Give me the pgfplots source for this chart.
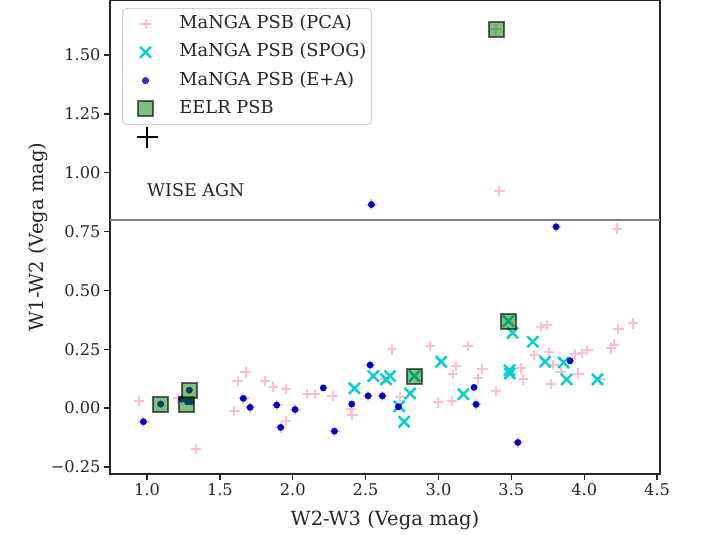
\documentclass[border=0pt]{standalone}
\usepackage{fontspec}
\setmainfont{DejaVu Serif}
\usepackage{pgfplots}
\pgfplotsset{compat=1.18}
\definecolor{axgray}{HTML}{262626}
\definecolor{pinkc}{HTML}{FFC0CB}
\definecolor{cyanc}{HTML}{00CED1}
\definecolor{bluec}{HTML}{0000CD}
\definecolor{greenc}{HTML}{008000}
\begin{document}
\begin{tikzpicture}
\begin{axis}[
  name=ax, scale only axis, width=550pt, height=474pt,
  xmin=0.746, xmax=4.52, ymin=-0.28, ymax=1.734,
  axis line style={axgray, line width=1.4pt},
  tick align=outside, major tick length=6pt,
  tick style={axgray, line width=1.4pt},
  xtick pos=bottom, ytick pos=left,
  xtick={1,1.5,2,2.5,3,3.5,4,4.5},
  xticklabels={1.0,1.5,2.0,2.5,3.0,3.5,4.0,4.5},
  ytick={-0.25,0,0.25,0.5,0.75,1,1.25,1.5},
  yticklabels={−0.25,0.00,0.25,0.50,0.75,1.00,1.25,1.50},
  ticklabel style={font=\fontsize{16.2}{19}\selectfont, text=axgray},
  xlabel={W2-W3 (Vega mag)}, ylabel={W1-W2 (Vega mag)},
  label style={font=\fontsize{19.5}{23}\selectfont, text=axgray},
  xlabel style={at={(axis description cs:0.5,-0.097)}, anchor=center},
  ylabel style={at={(axis description cs:-0.1309,0.5)}, anchor=center},
  legend style={at={(axis description cs:0,1)}, anchor=north west,
    xshift=12pt, yshift=-8pt, draw=black!18, line width=1pt,
    rounded corners=4pt, fill=white, fill opacity=0.8, text opacity=1,
    font=\fontsize{17.8}{21}\selectfont, text=axgray,
    inner xsep=3pt, inner ysep=5pt, row sep=7.3pt,
    nodes={inner sep=2pt, text height=13pt, text depth=4pt}},
  legend cell align=left,
  legend image code/.code={\draw[#1] plot coordinates {(20pt,0pt)}; \path[draw=none, fill=none, sharp corners] (0pt,-5pt) (52pt,5pt);},
]
% PCA
\addplot[only marks, mark=+, mark size=5.2pt, mark options={draw=pinkc, line width=2pt}] coordinates {
(0.947,0.031) (1.336,-0.175) (1.599,-0.013) (1.622,0.115) (1.677,0.152)
(1.215,0.041) (1.810,0.115) (1.863,0.091) (1.954,0.081) (1.952,-0.054)
(2.096,0.059) (2.153,0.059) (2.274,0.052) (2.400,-0.004) (2.409,-0.030)
(2.679,0.249) (2.633,0.123) (2.736,0.048) (2.942,0.265) (3.201,0.265)
(3.121,0.180) (3.098,0.144) (3.301,0.166) (3.270,0.126) (3.395,0.072)
(2.995,0.024) (3.091,0.030) (3.418,0.923) (4.224,0.763) (3.702,0.345)
(3.743,0.353) (4.235,0.336) (4.333,0.360) (3.759,0.239) (3.658,0.225)
(3.789,0.183) (3.938,0.228) (3.984,0.235) (4.022,0.246) (4.183,0.254)
(4.205,0.270) (3.565,0.169) (3.579,0.122) (3.838,0.154) (3.960,0.147)
(3.773,0.102) (4.109,0.122) (3.395,1.609)
(0.975,-0.058) (1.238,0.038) (1.661,0.041) (1.707,0.003) (1.890,0.013)
(1.917,-0.082) (2.016,-0.006) (2.286,-0.098) (2.531,0.183) (2.517,0.052)
(2.615,0.052) (2.540,0.865) (3.807,0.770) (3.544,-0.146) (3.258,0.016)
};
\addlegendentry{MaNGA PSB (PCA)}
% SPOG
\addplot[only marks, mark=x, mark size=7.8pt, mark options={draw=cyanc, line width=2.4pt}] coordinates {
(2.423,0.084) (2.553,0.136) (2.640,0.122) (2.668,0.136) (2.730,0.008)
(2.764,-0.058) (2.805,0.062) (2.835,0.136) (3.018,0.197) (3.171,0.059)
(3.480,0.370) (3.508,0.320) (3.487,0.161) (3.490,0.147) (3.647,0.282)
(3.732,0.197) (3.858,0.194) (3.879,0.122) (4.091,0.122)
};
\addlegendentry{MaNGA PSB (SPOG)}
% E+A
\addplot[only marks, mark=*, mark size=3.2pt, mark options={draw=bluec, fill=bluec, line width=0.4pt}] coordinates {
(0.975,-0.058) (1.094,0.017) (1.238,0.038) (1.277,0.027) (1.302,0.027)
(1.290,0.076) (1.661,0.041) (1.707,0.003) (1.890,0.013) (1.917,-0.082)
(2.016,-0.006) (2.210,0.086) (2.286,-0.098) (2.405,0.017) (2.531,0.183)
(2.517,0.052) (2.615,0.052) (2.725,0.006) (2.540,0.865) (3.244,0.088)
(3.258,0.016) (3.903,0.201) (3.544,-0.146) (3.807,0.770)
};
\addlegendentry{MaNGA PSB (E+A)}
% EELR
\addplot[only marks, mark=square*, mark size=7.5pt, mark options={fill=greenc, fill opacity=0.5, draw=black, draw opacity=0.6, line width=2pt}] coordinates {
(1.094,0.017) (1.268,0.015) (1.290,0.076) (2.835,0.136) (3.481,0.370) (3.395,1.609)
};
\addlegendentry{EELR PSB}
% extras
\addplot[black!50, line width=1.6pt, forget plot] coordinates {(0.7,0.8) (4.6,0.8)};
\addplot[only marks, mark=+, mark size=10.5pt, mark options={draw=black, line width=2pt}, forget plot] coordinates {(1.0,1.15)};
\node[anchor=base west, inner sep=0pt, font=\fontsize{17.5}{21}\selectfont, text=axgray] at (axis cs:1.0,0.9) {WISE AGN};
\end{axis}
\pgfresetboundingbox
\path ([shift={(-110pt,-61pt)}]ax.south west) rectangle ([shift={(41pt,0pt)}]ax.north east);
\end{tikzpicture}
\end{document}
